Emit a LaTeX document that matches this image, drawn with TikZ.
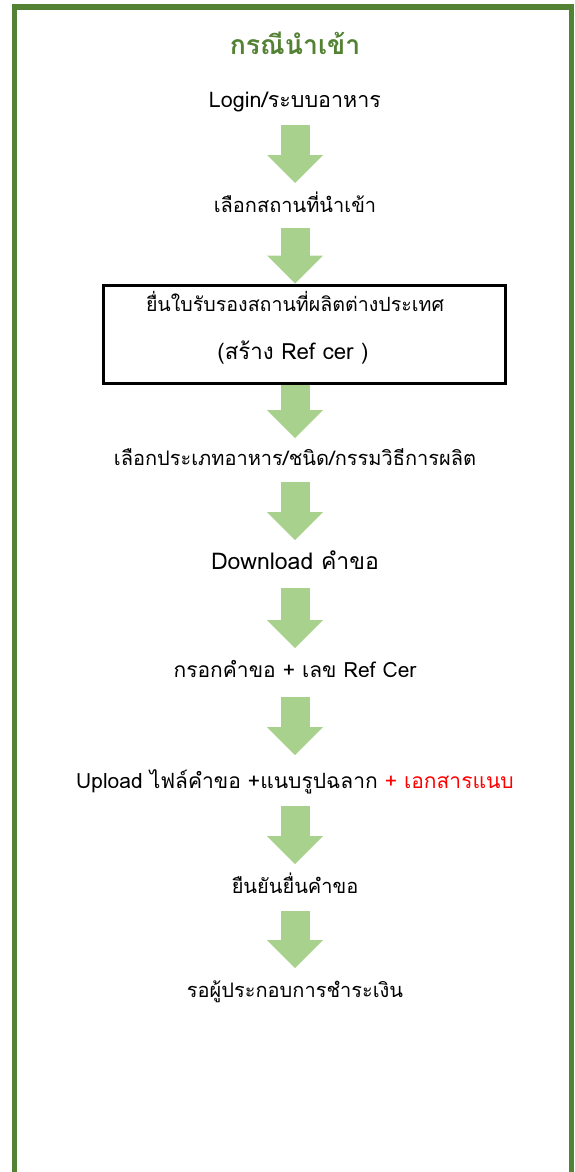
\documentclass[tikz,border=0pt]{standalone}
\usepackage{fontspec}
\usepackage{xcolor}
\usetikzlibrary{arrows.meta}
\newfontfamily\thaifont[Script=Thai]{Loma}
\definecolor{framegreen}{HTML}{548235}
\definecolor{arrowgreen}{HTML}{A9D18E}

\begin{document}
\begin{tikzpicture}[x=1pt, y=-1pt,
    every node/.style = {inner sep=0pt, text height=14pt, text depth=5pt,
      font=\thaifont\fontsize{20}{24}\selectfont},
    title/.style = {font=\thaifont\bfseries\fontsize{26.6}{30}\selectfont,
      text=framegreen},
    refbox/.style = {draw, line width=3pt, minimum width=402pt,
      minimum height=98pt, text height=, text depth=},
    flow/.style = {arrowgreen, line width=29pt,
      -{Triangle[width=56pt, length=28pt, line width=0pt]},
      shorten <=22pt, shorten >=25pt}]
  \useasboundingbox (0,0) rectangle (574,1172);
  \draw[framegreen, line width=5.5pt] (14.5,1172) |- (571.5,7) -- (571.5,1172);

  \node[title] (head) at (295,50) {กรณีนำเข้า};
  \node[font=\thaifont\fontsize{21.5}{26}\selectfont] (login) at (295,103) {Login/ระบบอาหาร};
  \node (place) at (295,208) {เลือกสถานที่นำเข้า};
  \node[refbox] (cert) at (304,334) {};
  \node[font=\thaifont\fontsize{19.6}{23}\selectfont] (certa) at (295,307) {ยื่นใบรับรองสถานที่ผลิตต่างประเทศ};
  \node[font=\thaifont\fontsize{22.3}{26}\selectfont] (certb) at (293,355) {(สร้าง Ref cer )};
  \node (type) at (295,461) {เลือกประเภทอาหาร/ชนิด/กรรมวิธีการผลิต};
  \node[font=\thaifont\fontsize{23}{27}\selectfont] (down) at (295,565) {Download คำขอ};
  \node[font=\thaifont\fontsize{21}{25}\selectfont] (fill) at (295,673) {กรอกคำขอ + เลข Ref Cer};
  \node[font=\thaifont\fontsize{21}{25}\selectfont] (up) at (295,784) {Upload ไฟล์คำขอ +แนบรูปฉลาก {\color{red}+ เอกสารแนบ}};
  \node (confirm) at (295,889) {ยืนยันยื่นคำขอ};
  \node (pay) at (295,993) {รอผู้ประกอบการชำระเงิน};

  \draw[flow] (login.center) -- (place.center);
  \draw[flow, shorten <=20pt, shorten >=0pt] (place.center) -- (place |- cert.north);
  \draw[flow, shorten <=0pt, shorten >=23pt] (place |- cert.south) -- (type.center);
  \draw[flow, shorten <=21pt] (type.center) -- (down.center);
  \draw[flow, shorten <=23pt] (down.center) -- (fill.center);
  \draw[flow, shorten <=24pt, shorten >=29pt] (fill.center) -- (up.center);
  \draw[flow] (up.center) -- (confirm.center);
  \draw[flow] (confirm.center) -- (pay.center);
\end{tikzpicture}
\end{document}
